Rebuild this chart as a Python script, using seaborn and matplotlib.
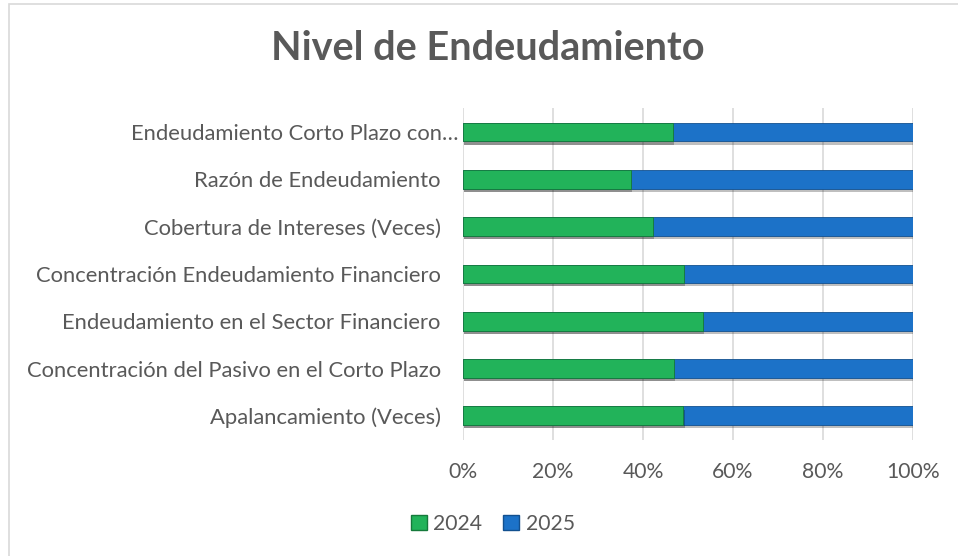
import matplotlib
matplotlib.use("Agg")
import matplotlib.pyplot as plt
import matplotlib.patheffects as pe
import matplotlib.transforms as mtransforms
from matplotlib.patches import Rectangle
import seaborn as sns
import pandas as pd

categories = [
    "Endeudamiento Corto Plazo con…",
    "Razón de Endeudamiento",
    "Cobertura de Intereses (Veces)",
    "Concentración Endeudamiento Financiero",
    "Endeudamiento en el Sector Financiero",
    "Concentración del Pasivo en el Corto Plazo",
    "Apalancamiento (Veces)",
]
share_2024 = [46.7, 37.4, 42.3, 49.2, 53.4, 46.9, 49.0]
share_2025 = [53.3, 62.6, 57.7, 50.8, 46.6, 53.1, 51.0]
series_names = ["2024", "2025"]
x_ticks = [0, 20, 40, 60, 80, 100]
x_tick_labels = ["0%", "20%", "40%", "60%", "80%", "100%"]

green = "#22b35a"
blue = "#1c72c8"
text_col = "#595959"

sns.set_theme(style="white")
plt.rcParams["font.family"] = ["Lato", "DejaVu Sans"]

df = pd.DataFrame({
    "cat": categories,
    "s2024": share_2024,
    "total": [a + b for a, b in zip(share_2024, share_2025)],
})

fig = plt.figure(figsize=(9.58, 5.56), dpi=100)
ax = fig.add_axes([0.4833, 0.2094, 0.4697, 0.5957])

shadow = [pe.SimplePatchShadow(offset=(0.8, -2.2), shadow_rgbFace="#000000", alpha=0.25), pe.Normal()]

sns.barplot(data=df, y="cat", x="total", order=categories, color=blue, width=0.4,
            saturation=1, edgecolor="#12508f", linewidth=0.6, ax=ax, orient="h")
sns.barplot(data=df, y="cat", x="s2024", order=categories, color=green, width=0.4,
            saturation=1, edgecolor="#157a3b", linewidth=0.6, ax=ax, orient="h")

for p in ax.patches:
    p.set_path_effects(shadow)

ax.set_xlim(0, 100)
ax.set_xticks(x_ticks)
ax.set_xticklabels(x_tick_labels)
ax.set_xlabel("")
ax.set_ylabel("")
ax.grid(axis="x", color="#d9d9d9", linewidth=1.2)
ax.grid(axis="y", visible=False)
ax.set_axisbelow(True)
for s in ax.spines.values():
    s.set_visible(False)
ax.tick_params(axis="y", length=0, pad=16, labelsize=15.8, labelcolor=text_col)
ax.tick_params(axis="x", length=0, pad=16, labelsize=15.2, labelcolor=text_col)

# the truncated first label sits closer to the axis, as in the source chart
first = ax.get_yticklabels()[0]
first.set_transform(first.get_transform() + mtransforms.ScaledTranslation(13 / 72, 0, fig.dpi_scale_trans))

fig.text(488 / 958, 1 - 48 / 556, "Nivel de Endeudamiento", ha="center", va="center",
         fontsize=28.5, fontweight="bold", color=text_col)

handles = [Rectangle((0, 0), 1, 1, facecolor=green, edgecolor="#157a3b"),
           Rectangle((0, 0), 1, 1, facecolor=blue, edgecolor="#12508f")]
fig.legend(handles, series_names, loc="center", bbox_to_anchor=(493 / 958, 1 - 524 / 556), ncol=2,
           frameon=False, fontsize=15.2, labelcolor=text_col, handlelength=0.75,
           handleheight=0.75, handletextpad=0.3, columnspacing=1.0)

border = Rectangle((8.5 / 958, -0.1), 1.2, 1 - 3.5 / 556 + 0.1, transform=fig.transFigure,
                   fill=False, edgecolor="#d9d9d9", linewidth=1.2)
fig.add_artist(border)

fig.savefig("out.png", dpi=100)
